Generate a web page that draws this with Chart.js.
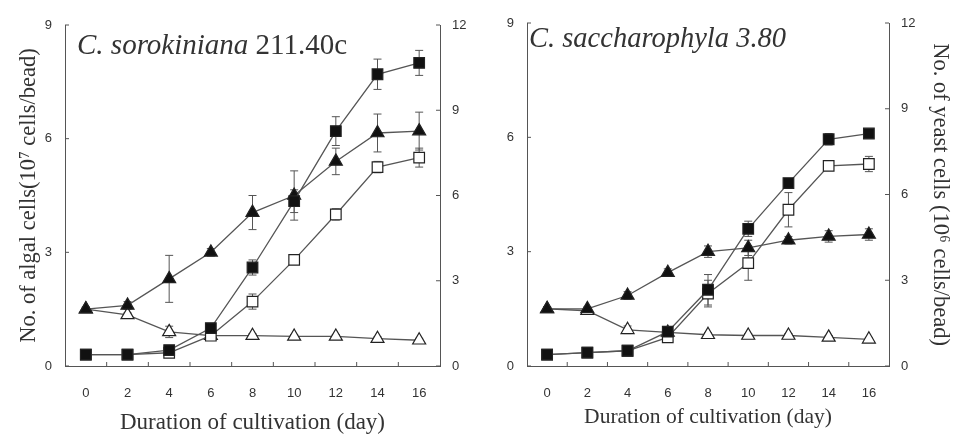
<!DOCTYPE html>
<html>
<head>
<meta charset="utf-8">
<script src="https://cdn.jsdelivr.net/npm/chart.js@4.4.1/dist/chart.umd.min.js"></script>
<style>
  html, body { margin: 0; padding: 0; background: #ffffff; }
  #wrap { position: relative; width: 953px; height: 436px; overflow: hidden; }
  .panel { position: absolute; top: 0; height: 436px; }
  #pA { left: 0; width: 476px; }
  #pB { left: 476px; width: 477px; }
</style>
</head>
<body>
<div id="wrap">
  <div class="panel" id="pA"><canvas id="cA"></canvas></div>
  <div class="panel" id="pB"><canvas id="cB"></canvas></div>
</div>
<script>
// ---------- data ----------
const days = [0, 2, 4, 6, 8, 10, 12, 14, 16];
const xMinorTicks = [1, 3, 5, 7, 9, 11, 13, 15];
const algalTicks = [0, 3, 6, 9];
const yeastTicks = [0, 3, 6, 9, 12];

// Panel A: C. sorokiniana 211.40c (values in left-axis units)
const A_filledSq    = [0.3, 0.3, 0.42, 1.0, 2.6, 4.35, 6.2, 7.7, 8.0];
const A_filledSqErr = [0.05, 0.05, 0.05, 0.1, 0.2, 0.3, 0.38, 0.4, 0.33];
const A_filledTri    = [1.5, 1.6, 2.3, 3.0, 4.05, 4.5, 5.4, 6.15, 6.2];
const A_filledTriErr = [0.05, 0.1, 0.62, 0.1, 0.45, 0.65, 0.35, 0.5, 0.5];
const A_openSq    = [0.3, 0.3, 0.35, 0.8, 1.7, 2.8, 4.0, 5.25, 5.5];
const A_openSqErr = [0.05, 0.05, 0.05, 0.1, 0.2, 0.1, 0.15, 0.15, 0.25];
const A_openTri    = [1.5, 1.35, 0.9, 0.8, 0.8, 0.78, 0.78, 0.72, 0.68];
const A_openTriErr = [0.05, 0.05, 0.15, 0.05, 0.05, 0.05, 0.05, 0.05, 0.05];

// Panel B: C. saccharophyla 3.80
const B_filledSq    = [0.3, 0.35, 0.4, 0.9, 2.0, 3.6, 4.8, 5.95, 6.1];
const B_filledSqErr = [0.05, 0.05, 0.05, 0.1, 0.4, 0.2, 0.1, 0.15, 0.1];
const B_filledTri    = [1.5, 1.5, 1.85, 2.45, 3.0, 3.1, 3.3, 3.4, 3.45];
const B_filledTriErr = [0.05, 0.05, 0.1, 0.1, 0.15, 0.2, 0.1, 0.15, 0.15];
const B_openSq    = [0.3, 0.35, 0.4, 0.75, 1.9, 2.7, 4.1, 5.25, 5.3];
const B_openSqErr = [0.05, 0.05, 0.05, 0.1, 0.35, 0.45, 0.45, 0.12, 0.2];
const B_openTri    = [1.5, 1.45, 0.95, 0.88, 0.82, 0.8, 0.8, 0.75, 0.7];
const B_openTriErr = [0.05, 0.05, 0.1, 0.05, 0.05, 0.05, 0.05, 0.05, 0.05];

// ---------- helpers ----------
const LINE = '#555555';
const INK = '#222222';
const TEXT = '#333333';
const SANS = "'Liberation Sans', Arial, sans-serif";
const SERIF = "'Liberation Serif', 'Times New Roman', serif";

function pts(vals) { return days.map((d, i) => ({ x: d, y: vals[i] })); }

function series(label, vals, errs, shape, filled) {
  return {
    label,
    data: pts(vals),
    errors: errs,
    borderColor: LINE,
    borderWidth: 1.3,
    pointStyle: shape,
    pointRadius: 7.5,
    pointBorderWidth: 1.2,
    pointBorderColor: INK,
    pointBackgroundColor: filled ? '#111111' : '#ffffff',
    pointHoverRadius: 7.5,
    tension: 0,
    fill: false,
    yAxisID: 'y'
  };
}

const errorBarPlugin = {
  id: 'errorBars',
  beforeDatasetsDraw(chart) {
    const ctx = chart.ctx;
    const ys = chart.scales.y;
    ctx.save();
    ctx.strokeStyle = '#555555';
    ctx.lineWidth = 1;
    chart.data.datasets.forEach((ds, i) => {
      if (!ds.errors) return;
      const meta = chart.getDatasetMeta(i);
      meta.data.forEach((pt, j) => {
        const e = ds.errors[j];
        if (!e) return;
        const v = ds.data[j].y;
        const yt = ys.getPixelForValue(v + e);
        const yb = ys.getPixelForValue(v - e);
        const x = pt.x;
        ctx.beginPath();
        ctx.moveTo(x, yt); ctx.lineTo(x, yb);
        ctx.moveTo(x - 4, yt); ctx.lineTo(x + 4, yt);
        ctx.moveTo(x - 4, yb); ctx.lineTo(x + 4, yb);
        ctx.stroke();
      });
    });
    ctx.restore();
  }
};

const innerTicksPlugin = {
  id: 'innerTicks',
  afterDraw(chart) {
    const { ctx, chartArea: a, scales } = chart;
    ctx.save();
    ctx.strokeStyle = '#555555';
    ctx.lineWidth = 1;
    ctx.beginPath();
    xMinorTicks.forEach(v => {
      const px = scales.x.getPixelForValue(v);
      ctx.moveTo(px, a.bottom); ctx.lineTo(px, a.bottom - 4);
    });
    algalTicks.forEach(v => {
      const py = scales.y.getPixelForValue(v);
      ctx.moveTo(a.left, py); ctx.lineTo(a.left + 4, py);
    });
    yeastTicks.forEach(v => {
      const py = scales.y2.getPixelForValue(v);
      ctx.moveTo(a.right, py); ctx.lineTo(a.right - 4, py);
    });
    ctx.stroke();
    ctx.restore();
  }
};

function panelLabelPlugin(parts, x, y, size) {
  return {
    id: 'panelLabel',
    afterDraw(chart) {
      const ctx = chart.ctx;
      ctx.save();
      ctx.fillStyle = '#333333';
      ctx.textBaseline = 'alphabetic';
      ctx.textAlign = 'left';
      let cx = x;
      parts.forEach(p => {
        ctx.font = (p.italic ? 'italic ' : '') + size + 'px ' + SERIF;
        ctx.fillText(p.text, cx, y);
        cx += ctx.measureText(p.text).width;
      });
      ctx.restore();
    }
  };
}

function makeChart(id, sets, cfg) {
  const datasets = [
    series('filled square', sets.fs, sets.fsErr, 'rect', true),
    series('filled triangle', sets.ft, sets.ftErr, 'triangle', true),
    series('open square', sets.os, sets.osErr, 'rect', false),
    series('open triangle', sets.ot, sets.otErr, 'triangle', false)
  ];
  return new Chart(document.getElementById(id), {
    type: 'line',
    data: { datasets },
    options: {
      responsive: true,
      maintainAspectRatio: false,
      animation: false,
      layout: { padding: { top: cfg.top, bottom: 0, left: 0, right: 0 } },
      plugins: { legend: { display: false }, tooltip: { enabled: false } },
      scales: {
        x: {
          type: 'linear',
          min: -1, max: 17,
          afterBuildTicks(s) { s.ticks = days.map(v => ({ value: v })); },
          afterFit(s) { s.height = cfg.xHeight; },
          grid: { display: false, drawTicks: false },
          border: { display: true, color: '#555555', width: 1 },
          ticks: { color: TEXT, font: { family: SANS, size: 13 }, padding: 20, maxRotation: 0 },
          title: {
            display: true,
            text: 'Duration of cultivation (day)',
            color: TEXT,
            font: { family: SERIF, size: cfg.xTitleSize, lineHeight: 1 },
            padding: { top: 0, bottom: cfg.xTitlePad }
          }
        },
        y: {
          type: 'linear',
          position: 'left',
          min: 0, max: 9,
          afterBuildTicks(s) { s.ticks = algalTicks.map(v => ({ value: v })); },
          afterFit(s) { s.width = cfg.leftW; },
          grid: { display: false, drawTicks: false },
          border: { display: true, color: '#555555', width: 1 },
          ticks: { color: TEXT, font: { family: SANS, size: 13 }, padding: 13 },
          title: {
            display: cfg.leftTitle,
            text: 'No. of algal cells(10\u2077 cells/bead)',
            color: TEXT,
            font: { family: SERIF, size: 22.5, lineHeight: 1 },
            padding: { top: 18, bottom: 0 }
          }
        },
        y2: {
          type: 'linear',
          position: 'right',
          min: 0, max: 12,
          afterBuildTicks(s) { s.ticks = yeastTicks.map(v => ({ value: v })); },
          afterFit(s) { s.width = cfg.rightW; },
          grid: { display: false, drawTicks: false },
          border: { display: true, color: '#555555', width: 1 },
          ticks: { color: TEXT, font: { family: SANS, size: 13 }, padding: 12 },
          title: {
            display: cfg.rightTitle,
            text: 'No. of yeast cells (10\u2076 cells/bead)',
            color: TEXT,
            font: { family: SERIF, size: 22.5, lineHeight: 1 },
            padding: { top: 2, bottom: 0 }
          }
        }
      }
    },
    plugins: [errorBarPlugin, innerTicksPlugin, panelLabelPlugin(cfg.label, cfg.labelX, cfg.labelY, cfg.labelSize)]
  });
}

makeChart('cA', {
  fs: A_filledSq, fsErr: A_filledSqErr,
  ft: A_filledTri, ftErr: A_filledTriErr,
  os: A_openSq, osErr: A_openSqErr,
  ot: A_openTri, otErr: A_openTriErr
}, {
  top: 25, xHeight: 70, xTitlePad: 2, xTitleSize: 23, leftW: 65, rightW: 36,
  leftTitle: true, rightTitle: false,
  label: [{ text: 'C. sorokiniana ', italic: true }, { text: '211.40c', italic: false }],
  labelX: 77, labelY: 54, labelSize: 29
});

makeChart('cB', {
  fs: B_filledSq, fsErr: B_filledSqErr,
  ft: B_filledTri, ftErr: B_filledTriErr,
  os: B_openSq, osErr: B_openSqErr,
  ot: B_openTri, otErr: B_openTriErr
}, {
  top: 23, xHeight: 70, xTitlePad: 8, xTitleSize: 21.5, leftW: 51, rightW: 64,
  leftTitle: false, rightTitle: true,
  label: [{ text: 'C. saccharophyla 3.80', italic: true }],
  labelX: 53, labelY: 47, labelSize: 28.5
});
</script>
</body>
</html>
